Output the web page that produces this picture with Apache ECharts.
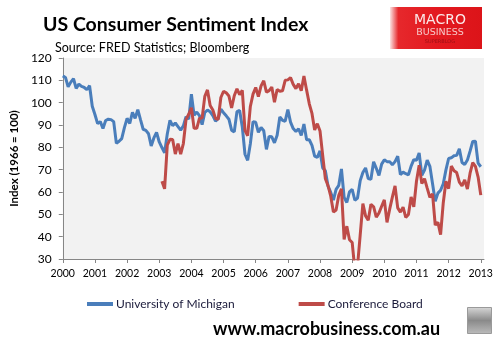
<!DOCTYPE html>
<html>
<head>
<meta charset="utf-8">
<script src="https://cdn.jsdelivr.net/npm/echarts@6/dist/echarts.min.js"></script>
<style>
html,body{margin:0;padding:0;background:#fff;}
#chart{width:502px;height:346px;}
</style>
</head>
<body>
<div id="chart"></div>
<script>
// Monthly values. University of Michigan: Jan 2000 - Jan 2013
const umich = [
  112.0,111.3,107.1,109.2,110.7,106.4,108.3,107.3,106.8,105.8,107.6,98.4,
  94.7,90.6,91.5,88.4,92.0,92.6,92.4,91.5,81.8,82.7,83.9,88.8,
  93.0,90.7,95.7,93.0,96.9,92.4,88.1,87.6,86.1,80.6,84.2,86.7,
  82.4,79.9,77.6,86.0,92.1,89.7,90.9,89.3,87.7,89.6,93.7,92.6,
  103.8,94.4,95.8,94.2,90.2,95.6,96.7,95.9,94.2,91.7,92.8,97.1,
  95.5,94.1,92.6,87.7,86.9,96.0,96.5,89.1,76.9,74.2,81.6,91.5,
  91.2,86.7,88.9,87.4,79.1,84.9,84.7,82.0,85.4,93.6,92.1,91.7,
  96.9,91.3,88.4,87.1,88.3,85.3,90.4,83.4,83.4,80.9,76.1,75.5,
  78.4,70.8,69.5,62.6,59.8,56.4,61.2,63.0,70.3,57.6,55.3,60.1,
  61.2,56.3,57.3,65.1,68.7,70.8,66.0,65.7,73.5,70.6,67.4,72.5,
  74.4,73.6,73.6,72.2,73.6,76.0,67.8,68.9,68.2,67.7,71.6,74.5,
  74.2,77.5,67.5,69.8,74.3,71.5,63.7,55.8,59.5,60.8,63.7,69.9,
  75.0,75.3,76.2,76.4,79.3,73.2,72.3,74.3,78.3,82.6,82.7,72.9,
  71.3
];
const umichStart = [2000, 1];   // year, month
// Conference Board: Feb 2003 - Jan 2013
const confBoard = [
  64.8,61.4,81.0,83.6,83.5,77.0,81.7,77.0,81.7,92.5,94.8,
  97.7,88.5,88.5,93.0,93.1,102.8,105.7,98.7,96.7,92.9,92.6,102.3,
  105.1,104.4,103.0,97.7,103.1,106.2,103.6,105.5,87.5,85.2,98.3,103.8,
  106.8,102.7,107.5,109.8,104.7,105.4,107.0,100.2,105.9,105.1,105.3,110.0,
  110.2,111.2,108.2,106.3,108.5,105.3,111.9,105.6,99.5,95.2,87.8,90.6,
  87.3,76.4,65.9,62.8,58.1,51.0,51.9,58.5,61.4,38.8,44.7,38.6,
  37.4,25.3,26.9,40.8,54.8,49.3,47.4,54.5,53.4,48.7,50.6,53.6,
  56.5,46.4,52.3,57.7,62.7,52.9,51.0,53.2,48.6,49.9,57.8,53.3,
  64.8,72.0,63.8,66.0,61.7,57.6,59.2,45.2,46.4,40.9,55.2,64.8,
  61.5,71.6,69.5,68.7,64.4,62.7,65.4,61.3,68.4,73.1,71.5,66.7,
  58.6
];
const confStart = [2003, 2];
const yearTicks = [2000,2001,2002,2003,2004,2005,2006,2007,2008,2009,2010,2011,2012,2013];
const yTicks = [30,40,50,60,70,80,90,100,110,120];
const seriesNames = ['University of Michigan', 'Conference Board'];
const titleText = 'US Consumer Sentiment Index';
const subtitleText = 'Source: FRED Statistics; Bloomberg';
const yAxisName = 'Index (1966 = 100)';
const footerText = 'www.macrobusiness.com.au';

function toPairs(values, start) {
  return values.map((v, i) => [start[0] + (start[1] - 1 + i) / 12, v]);
}

const chart = echarts.init(document.getElementById('chart'), null, {renderer: 'canvas'});
const FONT = 'Lato';
chart.setOption({
  animation: false,
  backgroundColor: '#ffffff',
  title: [
    {text: titleText, left: 38, top: 10,
     textStyle: {fontFamily: FONT, fontSize: 19.5, fontWeight: 'bold', color: '#000'}},
    {text: subtitleText, left: 50, top: 36,
     textStyle: {fontFamily: FONT, fontSize: 12.5, fontWeight: 'normal', color: '#000'}}
  ],
  grid: {left: 57, right: 18, top: 58, bottom: 87, show: true,
         backgroundColor: '#f2f2f2', borderWidth: 0},
  legend: {
    data: seriesNames, left: 82, top: 293, itemGap: 64, itemWidth: 26, itemHeight: 4,
    icon: 'rect',
    textStyle: {fontFamily: FONT, fontSize: 12, color: '#1a1a3a', padding: [0,0,0,-2]}
  },
  xAxis: {
    type: 'value', min: 2000, max: 2013.1, interval: 1,
    splitLine: {show: false},
    axisLine: {lineStyle: {color: '#868686', width: 1}},
    axisTick: {show: true, length: 4, lineStyle: {color: '#868686'}, customValues: yearTicks},
    axisLabel: {customValues: yearTicks, formatter: v => String(Math.round(v)),
      fontFamily: FONT, fontSize: 10.5, color: '#000', margin: 9}
  },
  yAxis: {
    type: 'value', min: 30, max: 120, interval: 10,
    name: yAxisName, nameLocation: 'middle', nameGap: 40, nameRotate: 90,
    nameTextStyle: {fontFamily: FONT, fontSize: 11.5, fontWeight: 'bold', color: '#000'},
    splitLine: {show: false},
    axisLine: {show: true, lineStyle: {color: '#868686', width: 1}},
    axisTick: {show: true, length: 4, lineStyle: {color: '#868686'}},
    axisLabel: {fontFamily: FONT, fontSize: 12, color: '#000', margin: 11}
  },
  series: [
    {name: seriesNames[0], type: 'line', data: toPairs(umich, umichStart),
     showSymbol: false, color: '#4a7ebb', lineStyle: {width: 3, color: '#4a7ebb'}, clip: true, z: 2},
    {name: seriesNames[1], type: 'line', data: toPairs(confBoard, confStart),
     showSymbol: false, color: '#be4b48', lineStyle: {width: 3, color: '#be4b48'}, clip: true, z: 3}
  ],
  graphic: [
    {type: 'rect', shape: {x: 390, y: 7, width: 92, height: 42},
     style: {fill: new echarts.graphic.LinearGradient(0, 0, 1, 0, [
       {offset: 0, color: '#fbe3e3'}, {offset: 0.09, color: '#e6282c'},
       {offset: 0.5, color: '#e3191f'}, {offset: 1, color: '#dc1419'}])}},
    {type: 'text', x: 440, y: 20, style: {text: 'MACRO', fontFamily: 'DejaVu Sans', fontSize: 14,
     fill: '#fbe8e8', align: 'center', verticalAlign: 'middle'}},
    {type: 'text', x: 440, y: 33, style: {text: 'BUSINESS', fontFamily: 'DejaVu Sans', fontSize: 9.5,
     fill: '#f6c8c8', align: 'center', verticalAlign: 'middle'}},
    {type: 'text', x: 440, y: 42, style: {text: 'SUPERBLOG', fontFamily: 'DejaVu Sans', fontSize: 5,
     fill: '#9c1014', align: 'center', verticalAlign: 'middle'}},
    {type: 'text', x: 213, y: 329, style: {text: footerText, fontFamily: FONT, fontSize: 18,
     fontWeight: 'bold', fill: '#000', align: 'left', verticalAlign: 'middle'}},
    {type: 'rect', shape: {x: 467.5, y: 307.5, width: 24, height: 26},
     style: {fill: new echarts.graphic.LinearGradient(0, 0, 0, 1, [
       {offset: 0, color: '#d8d8d8'}, {offset: 0.5, color: '#8a8a8a'}, {offset: 1, color: '#bcbcbc'}]),
       stroke: '#9a9a9a', lineWidth: 1}}
  ]
});
</script>
</body>
</html>
